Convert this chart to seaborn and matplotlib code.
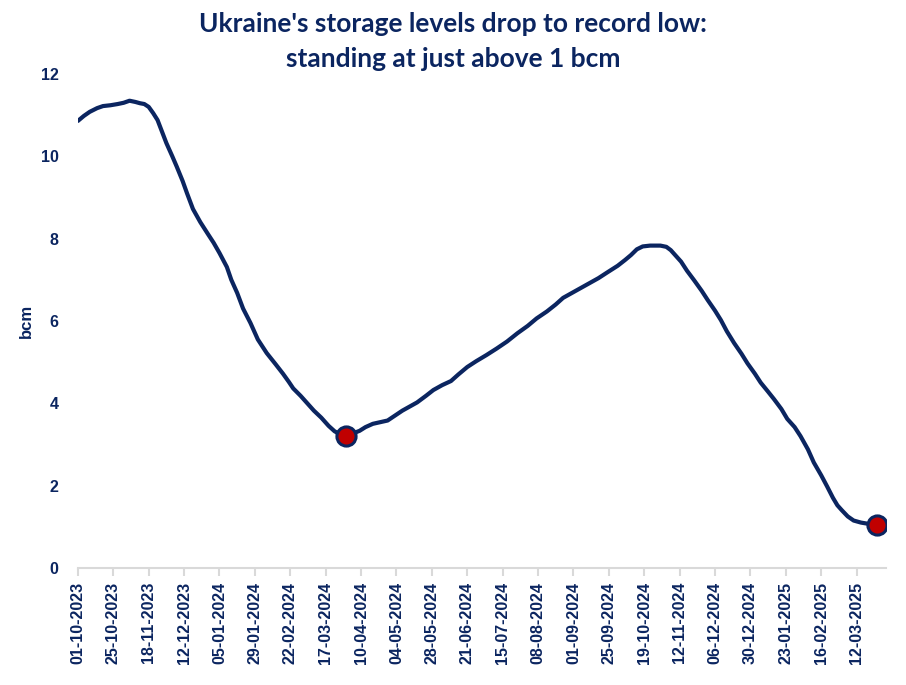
import numpy as np
import pandas as pd
import matplotlib
matplotlib.use("Agg")
import matplotlib.pyplot as plt
import matplotlib.dates as mdates
import seaborn as sns

# ---- data ----
start_date = "2023-10-01"
day_offsets = [0, 4, 8, 13, 17, 22, 27, 31, 35, 39, 42, 45, 48, 51, 54, 57, 60, 64, 67, 71,
               74, 78, 83, 88, 92, 96, 101, 104, 108, 112, 117, 122, 128, 134, 139, 143, 146,
               151, 156, 160, 165, 170, 174, 178, 182, 186, 191, 195, 200, 205, 210, 215, 220,
               225, 230, 236, 241, 247, 253, 258, 264, 270, 277, 284, 291, 298, 305, 311, 318,
               324, 329, 335, 341, 347, 353, 359, 366, 371, 375, 379, 383, 388, 395, 399, 402,
               405, 409, 413, 418, 423, 427, 432, 436, 440, 445, 450, 454, 459, 463, 468, 472,
               477, 481, 486, 490, 495, 499, 504, 508, 512, 515, 518, 522, 526, 531, 536, 540, 542]
storage_bcm = [10.86, 10.98, 11.08, 11.17, 11.22, 11.24, 11.27, 11.30, 11.35, 11.32, 11.29, 11.27,
               11.20, 11.05, 10.88, 10.60, 10.32, 10.00, 9.75, 9.40, 9.10, 8.72, 8.40, 8.12, 7.90,
               7.65, 7.31, 7.00, 6.68, 6.30, 5.95, 5.55, 5.22, 4.95, 4.72, 4.52, 4.36, 4.18, 3.98,
               3.82, 3.65, 3.45, 3.32, 3.24, 3.21, 3.26, 3.33, 3.42, 3.50, 3.54, 3.58, 3.70, 3.82,
               3.92, 4.02, 4.18, 4.32, 4.44, 4.54, 4.70, 4.88, 5.02, 5.17, 5.33, 5.50, 5.70, 5.88,
               6.06, 6.23, 6.40, 6.56, 6.68, 6.80, 6.92, 7.04, 7.18, 7.34, 7.48, 7.60, 7.74, 7.81,
               7.83, 7.83, 7.80, 7.72, 7.60, 7.44, 7.22, 6.98, 6.73, 6.51, 6.25, 6.02, 5.75, 5.46,
               5.20, 4.97, 4.72, 4.50, 4.28, 4.10, 3.86, 3.62, 3.42, 3.20, 2.88, 2.56, 2.25, 1.98,
               1.70, 1.52, 1.40, 1.25, 1.15, 1.10, 1.07, 1.05, 1.03]
highlight_days = [182, 542]
tick_dates = ["2023-10-01", "2023-10-25", "2023-11-18", "2023-12-12", "2024-01-05", "2024-01-29",
              "2024-02-22", "2024-03-17", "2024-04-10", "2024-05-04", "2024-05-28", "2024-06-21",
              "2024-07-15", "2024-08-08", "2024-09-01", "2024-09-25", "2024-10-19", "2024-11-12",
              "2024-12-06", "2024-12-30", "2025-01-23", "2025-02-16", "2025-03-12"]
y_ticks = [0, 2, 4, 6, 8, 10, 12]
title = "Ukraine's storage levels drop to record low:\nstanding at just above 1 bcm"

# ---- build frame ----
base = pd.Timestamp(start_date)
df = pd.DataFrame({"date": base + pd.to_timedelta(day_offsets, unit="D"), "bcm": storage_bcm})
hl = df[df["date"].isin(base + pd.to_timedelta(highlight_days, unit="D"))]

NAVY = "#0B2560"
RED = "#C00000"

sns.set_theme(style="white")
plt.rcParams["font.family"] = ["Liberation Sans", "DejaVu Sans"]

fig = plt.figure(figsize=(9.06, 6.85), dpi=100)
ax = fig.add_axes([0.086, 0.171, 0.892, 0.721])

sns.lineplot(data=df, x="date", y="bcm", ax=ax, color=NAVY, linewidth=3.0)
sns.scatterplot(data=hl, x="date", y="bcm", ax=ax, color=RED, edgecolor=NAVY,
                linewidth=2.2, s=190, zorder=5)

ax.set_ylim(0, 12)
ax.set_yticks(y_ticks)
ax.set_xlim(base, base + pd.Timedelta(days=548))
ax.set_xticks(pd.to_datetime(tick_dates))
ax.xaxis.set_major_formatter(mdates.DateFormatter("%d-%m-%Y"))

for s in ["top", "right", "left"]:
    ax.spines[s].set_visible(False)
ax.spines["bottom"].set_color("#D9D9D9")
ax.spines["bottom"].set_linewidth(1.5)
ax.tick_params(axis="x", which="major", bottom=True, length=6, width=1.5, color="#D9D9D9",
               labelrotation=90, labelsize=11.5, labelcolor=NAVY, pad=4)
ax.tick_params(axis="y", left=False, labelsize=11.5, labelcolor=NAVY, pad=8)
for lab in ax.get_xticklabels() + ax.get_yticklabels():
    lab.set_fontweight("bold")

ax.set_xlabel("")
ax.set_ylabel("bcm", fontsize=12, fontweight="bold", color=NAVY, labelpad=5)
ax.grid(False)

fig.suptitle(title, x=0.5, y=0.982, fontsize=19, fontweight="bold", color=NAVY,
             family=["Lato", "DejaVu Sans"], linespacing=1.55, va="top")

fig.savefig("out.png", dpi=100)
